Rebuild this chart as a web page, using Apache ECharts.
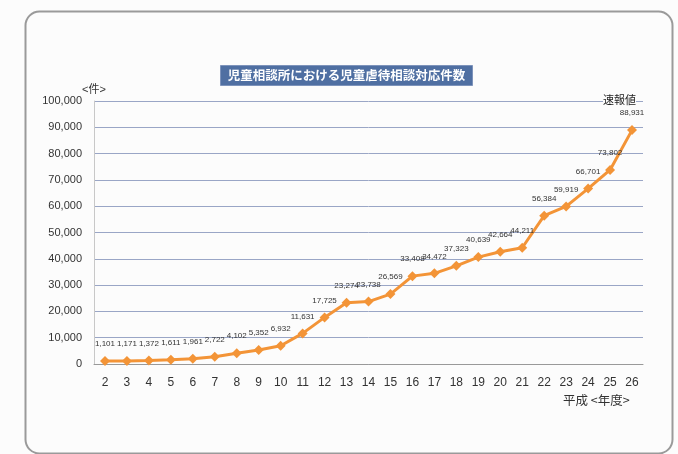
<!DOCTYPE html>
<html>
<head>
<meta charset="utf-8">
<script src="https://cdn.jsdelivr.net/npm/echarts@6/dist/echarts.min.js"></script>
<style>
html,body{margin:0;padding:0;background:#fcfcfc;}
#chart{width:678px;height:454px;}
</style>
</head>
<body>
<div id="chart"></div>
<script>
var categories = ['2','3','4','5','6','7','8','9','10','11','12','13','14','15','16','17','18','19','20','21','22','23','24','25','26'];
var values = [1101,1171,1372,1611,1961,2722,4102,5352,6932,11631,17725,23274,23738,26569,33408,34472,37323,40639,42664,44211,56384,59919,66701,73802,88931];
var titleText = '児童相談所における児童虐待相談対応件数';
var yUnit = '<件>';
var xUnit = '平成 <年度>';
var noteText = '速報値';

var font = '"Liberation Sans", "Noto Sans CJK JP", sans-serif';
var chart = echarts.init(document.getElementById('chart'), null, {renderer:'canvas'});
chart.setOption({
  backgroundColor: '#fcfcfc',
  animation: false,
  textStyle: {fontFamily: font},
  grid: {left: 94, right: 35, top: 101, bottom: 90},
  xAxis: {
    type: 'category',
    data: categories,
    boundaryGap: true,
    axisLine: {lineStyle: {color: '#999', width: 1}},
    axisTick: {show: false},
    axisLabel: {color: '#333', fontSize: 12, margin: 13, fontFamily: font}
  },
  yAxis: {
    type: 'value',
    min: 0, max: 100000, interval: 10000,
    name: yUnit,
    nameLocation: 'end',
    nameGap: 6,
    nameTextStyle: {color: '#333', fontSize: 11, fontFamily: font},
    axisLine: {show: true, lineStyle: {color: '#c8c8c8'}},
    axisTick: {show: false},
    axisLabel: {color: '#333', fontSize: 11, margin: 12, fontFamily: font,
      formatter: function(v){ return v.toLocaleString('en-US'); }},
    splitLine: {lineStyle: {color: '#9aa6c6', width: 1}}
  },
  series: [{
    type: 'line',
    data: values,
    symbol: 'diamond',
    symbolSize: 10,
    lineStyle: {color: '#f39437', width: 3},
    itemStyle: {color: '#f39437'},
    label: {
      show: true, position: 'top', distance: 8,
      fontSize: 8, color: '#333', fontFamily: font,
      formatter: function(p){ return p.value.toLocaleString('en-US'); }
    }
  }],
  graphic: [
    {type: 'rect', left: 23, top: 9, shape: {width: 647, height: 442, r: 14},
     style: {fill: 'none', stroke: '#9a9a9a', lineWidth: 2}, z: 0},
    {type: 'group', left: 220, top: 65, z: 10, children: [
      {type: 'rect', shape: {x: 0, y: 0, width: 252, height: 20},
       style: {fill: '#4f6fa2', stroke: '#7d93bb', lineWidth: 1}, z: 10},
      {type: 'text', x: 126, y: 10, z: 11,
       style: {text: titleText, fill: '#ffffff', align: 'center', verticalAlign: 'middle',
               font: 'bold 12.5px "Noto Sans CJK JP", sans-serif'}}
    ]},
    {type: 'text', left: 603, top: 94, z: 11,
     style: {text: noteText, fill: '#222', font: '11px "Noto Sans CJK JP", sans-serif', backgroundColor: '#fcfcfc'}},
    {type: 'text', left: 563, top: 394, z: 11,
     style: {text: xUnit, fill: '#333', font: '12.5px "Noto Sans CJK JP", sans-serif'}}
  ]
});
</script>
</body>
</html>
